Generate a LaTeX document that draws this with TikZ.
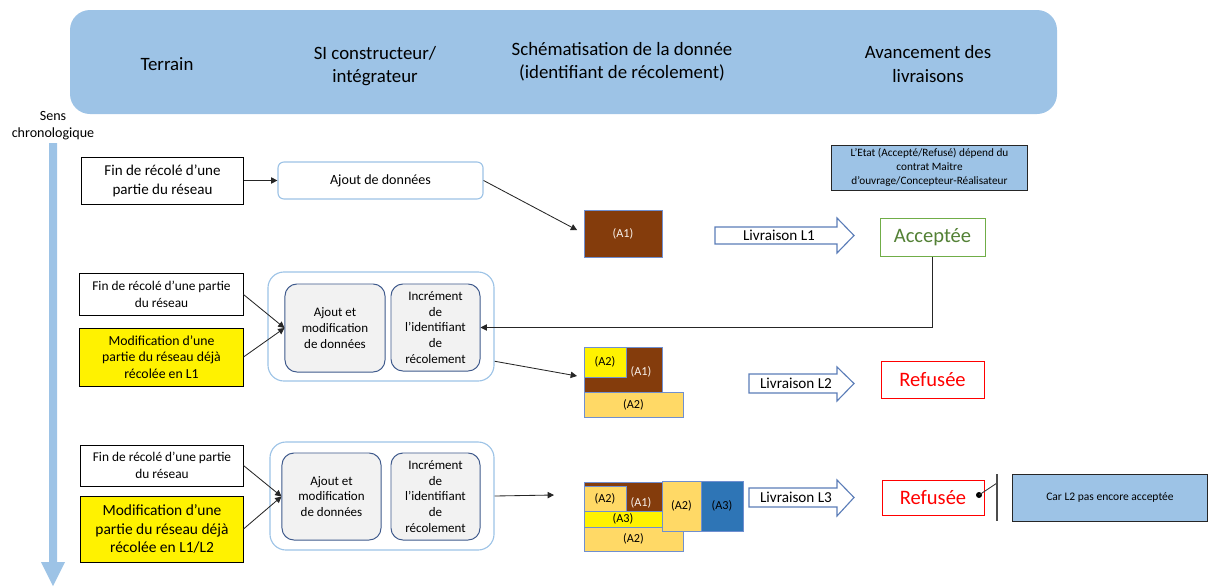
\documentclass[tikz,border=0pt]{standalone}
\usepackage{fontspec}
\setmainfont{Carlito}
\usepackage{xcolor}
\usetikzlibrary{arrows.meta}
\definecolor{hdrblue}{HTML}{9DC3E6}
\definecolor{taskblue}{HTML}{3F5A8C}
\definecolor{taskgrey}{HTML}{F2F2F2}
\definecolor{blkline}{HTML}{6F8FD0}
\definecolor{brownA}{HTML}{843C0C}
\definecolor{goldA}{HTML}{FFD966}
\definecolor{blueA}{HTML}{2E75B6}
\definecolor{livline}{HTML}{5B7DB8}
\definecolor{okgreen}{HTML}{70AD47}
\definecolor{oktext}{HTML}{538135}
\tikzset{
  hdrtext/.style={align=center, font=\fontsize{13.4pt}{16.4pt}\selectfont},
  field/.style={draw=black, fill=white, line width=0.7pt, align=center, inner sep=0pt},
  sibox/.style={draw=hdrblue, fill=white, line width=0.8pt, rounded corners=0.15cm, inner sep=0pt},
  grp/.style={draw=hdrblue, line width=0.8pt, rounded corners=0.4cm, inner sep=0pt},
  task/.style={draw=taskblue, fill=taskgrey, line width=0.7pt, rounded corners=0.3cm, align=center,
    inner sep=0pt, font=\fontsize{9.25pt}{11.2pt}\selectfont},
  blk/.style={draw=blkline, line width=0.7pt, inner sep=0pt, font=\fontsize{8.7pt}{10pt}\selectfont},
  blktext/.style={inner sep=0pt, font=\fontsize{8.7pt}{10pt}\selectfont},
  livarrow/.style={draw=livline, fill=white, line width=0.8pt},
  etat/.style={fill=white, line width=0.7pt, inner sep=0pt, font=\fontsize{14.6pt}{17pt}\selectfont},
  note/.style={draw=black!85, fill=hdrblue, line width=0.7pt, align=center, inner sep=0pt},
  conn/.style={-{Triangle[length=4.5pt,width=4.5pt]}, line width=0.6pt, black!85}
}
\begin{document}
\begin{tikzpicture}[x=0.025cm, y=-0.025cm]
\useasboundingbox (0,0) rectangle (1208,586);

%header
\fill[hdrblue, rounded corners=0.5cm] (70,10) rectangle (1057,114);
\node[hdrtext] (terrain) at (167,64) {Terrain};
\node[hdrtext] (si) at (375,66) {SI constructeur/\\intégrateur};
\node[hdrtext] (schema) at (622,62) {Schématisation de la donnée\\(identifiant de récolement)};
\node[hdrtext] (avance) at (928,64) {Avancement des\\livraisons};

%time
\node[align=center, font=\fontsize{10pt}{12pt}\selectfont] (sens) at (53,126) {Sens\\chronologique};
\fill[hdrblue] (49,143) -- (57,143) -- (57,562) -- (65,562) -- (53,586) -- (41,562) -- (49,562) -- cycle;

%1
\node[field, minimum width=4.025cm, minimum height=1.175cm, font=\fontsize{10.7pt}{13.5pt}\selectfont]
  (fin1) at (162.5,180.5) {Fin de récolé d’une\\partie du réseau};
\node[sibox, minimum width=5.125cm, minimum height=0.925cm, font=\fontsize{10pt}{12pt}\selectfont]
  (ajout1) at (380.5,180.5) {Ajout de données};
\draw[conn] (fin1) -- (ajout1);
\node[blk, fill=brownA, text=white!90!brown, minimum width=1.95cm, minimum height=1.175cm] (a1) at (623,233.5) {(A1)};
\draw[conn, shorten >=0.18cm] (ajout1.east) -- (a1.west);
\draw[livarrow] (715,227) -- (837,227) -- (837,218) -- (854,235.5) -- (837,253) -- (837,244) -- (715,244) -- cycle;
\node[font=\fontsize{10.8pt}{12pt}\selectfont] (liv1) at (779,235.5) {Livraison L1};
\node[note, minimum width=4.875cm, minimum height=1.125cm, font=\fontsize{8pt}{10pt}\selectfont]
  (etat) at (929.5,167.5) {L’Etat (Accepté/Refusé) dépend du\\contrat Maitre\\d’ouvrage/Concepteur-Réalisateur};
\node[etat, draw=okgreen, text=oktext, minimum width=2.625cm, minimum height=0.95cm] (acc) at (932.5,237) {Acceptée};

%2
\node[grp, minimum width=5.65cm, minimum height=2.725cm] (grp2) at (381,326.5) {};
\node[field, minimum width=4.075cm, minimum height=1.05cm, font=\fontsize{9.5pt}{11.9pt}\selectfont]
  (fin2) at (161.5,294.5) {Fin de récolé d’une partie\\du réseau};
\node[field, fill=yellow, minimum width=4.075cm, minimum height=1.45cm, font=\fontsize{9.8pt}{11.8pt}\selectfont]
  (modif2) at (161.5,357) {Modification d’une\\partie du réseau déjà\\récolée en L1};
\node[task, minimum width=2.5cm, minimum height=2.2cm] (ajout2) at (335,328) {Ajout et\\modification\\de données};
\node[task, minimum width=2.225cm, minimum height=2.175cm] (incr2) at (435.5,327.5)
  {Incrément\\de\\l’identifiant\\de\\récolement};
\draw[conn] (fin2.east) -- (ajout2.west);
\draw[conn] (modif2.east) -- (ajout2.west);
\draw[conn] (acc.south) |- (incr2.east);
\node[blk, fill=brownA, minimum width=1.95cm, minimum height=1.125cm] (comp2) at (623,369.5) {};
\node[blk, fill=yellow, minimum width=1.05cm, minimum height=0.75cm] (a2top2) at (605,362) {(A2)};
\node[blktext, text=white!90!brown] (a1txt2) at (641,372) {(A1)};
\node[blk, fill=goldA, minimum width=2.475cm, minimum height=0.625cm] (a2bot2) at (633.5,404.5) {(A2)};
\coordinate (in2) at (577,376);
\draw[conn] (grp2.-17) -- (in2);
\draw[livarrow] (749,374) -- (837,374) -- (837,367) -- (854,383.5) -- (837,401) -- (837,393) -- (749,393) -- cycle;
\node[font=\fontsize{10.8pt}{12pt}\selectfont] (liv2) at (796,383.5) {Livraison L2};
\node[etat, draw=red, text=red, minimum width=2.575cm, minimum height=0.925cm] (ref2) at (932.5,379.5) {Refusée};

%3
\node[grp, minimum width=5.6cm, minimum height=2.7cm] (grp3) at (382,496) {};
\node[field, minimum width=4.05cm, minimum height=1.025cm, font=\fontsize{9.5pt}{11.9pt}\selectfont]
  (fin3) at (162,465.5) {Fin de récolé d’une partie\\du réseau};
\node[field, fill=yellow, minimum width=4.05cm, minimum height=1.65cm, font=\fontsize{11pt}{13.2pt}\selectfont]
  (modif3) at (162,529) {Modification d’une\\partie du réseau déjà\\récolée en L1/L2};
\node[task, minimum width=2.475cm, minimum height=2.175cm] (ajout3) at (331.5,496.5) {Ajout et\\modification\\de données};
\node[task, minimum width=2.225cm, minimum height=2.175cm] (incr3) at (435.5,496.5)
  {Incrément\\de\\l’identifiant\\de\\récolement};
\draw[conn] (fin3.east) -- (ajout3.west);
\draw[conn] (modif3.east) -- (ajout3.west);
\node[blk, fill=brownA, minimum width=1.95cm, minimum height=1.125cm] (comp3) at (623,504.5) {};
\node[blk, fill=goldA, minimum width=1.05cm, minimum height=0.625cm] (a2top3) at (605,498.5) {(A2)};
\node[blktext, text=white!90!brown] (a1txt3) at (641,503) {(A1)};
\node[blk, fill=yellow, minimum width=1.95cm, minimum height=0.4cm] (a3bar) at (623,519) {(A3)};
\node[blk, fill=goldA, minimum width=2.475cm, minimum height=0.6cm] (a2bot3) at (633.5,539) {(A2)};
\node[blk, fill=goldA, minimum width=0.975cm, minimum height=1.25cm] (a2box3) at (681.5,506) {(A2)};
\node[blk, fill=blueA, minimum width=1.05cm, minimum height=1.25cm] (a3box) at (722,506) {(A3)};
\coordinate (in3) at (554,495);
\draw[conn] (grp3.east) -- (in3);
\draw[livarrow] (749,488) -- (837,488) -- (837,480) -- (854,497.5) -- (837,516) -- (837,507) -- (749,507) -- cycle;
\node[font=\fontsize{10.8pt}{12pt}\selectfont] (liv3) at (796,497.5) {Livraison L3};
\node[etat, draw=red, text=red, minimum width=2.55cm, minimum height=0.875cm] (ref3) at (933,497.5) {Refusée};
\node[note, minimum width=4.85cm, minimum height=1.175cm, font=\fontsize{8.2pt}{10pt}\selectfont]
  (car) at (1110,497.5) {Car L2 pas encore acceptée};
\coordinate (dot3) at (979,495);
\coordinate (bar3) at (997,483);
\fill (dot3) circle (3);
\draw[line width=0.6pt, black!80] (dot3) -- (bar3);
\draw[line width=1pt, black!70] (997,474) -- (997,521);

\end{tikzpicture}
\end{document}
